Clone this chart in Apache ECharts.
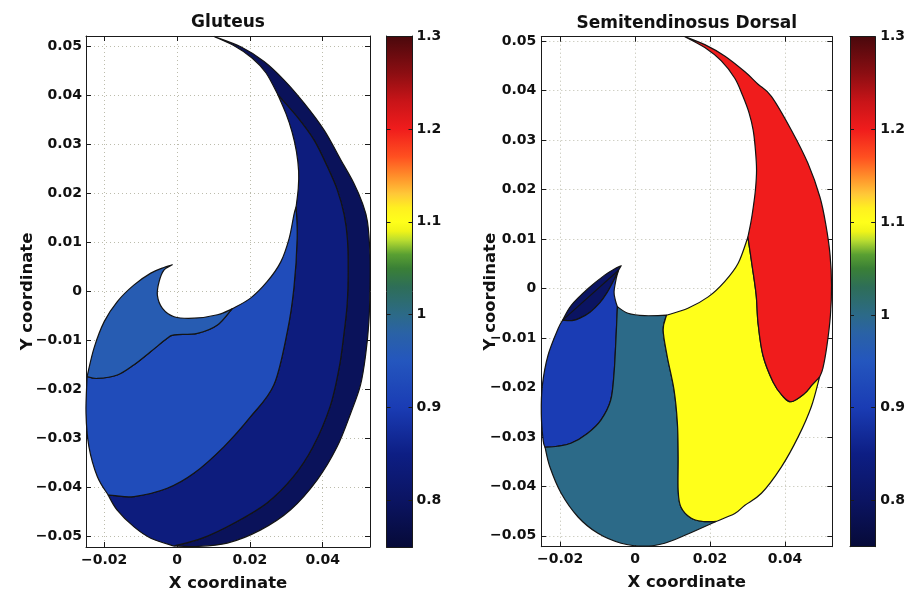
<!DOCTYPE html>
<html>
<head>
<meta charset="utf-8">
<script src="https://cdn.jsdelivr.net/npm/echarts@6/dist/echarts.min.js"></script>
<style>
  html, body { margin: 0; padding: 0; background: #ffffff; }
  #chart { width: 908px; height: 598px; }
</style>
</head>
<body>
<div id="chart"></div>
<script>
// ---------- axis ticks and colour scale ----------
const xTicks = [-0.02, 0, 0.02, 0.04];
const yTicks = [-0.05, -0.04, -0.03, -0.02, -0.01, 0, 0.01, 0.02, 0.03, 0.04, 0.05];
const cbTicks = [0.8, 0.9, 1, 1.1, 1.2, 1.3];
const cbRange = [0.75, 1.3];
const colormap = [
  [0.75, '#060a38'], [0.80, '#0b1462'], [0.85, '#0d1e84'], [0.90, '#1a3cb4'],
  [0.95, '#2456be'], [0.98, '#2a62a6'], [1.00, '#2c6a88'], [1.03, '#2e6e58'],
  [1.05, '#3a8036'], [1.065, '#5aa032'], [1.08, '#b8dc30'], [1.09, '#f0f418'],
  [1.10, '#ffff1a'], [1.115, '#fff020'], [1.13, '#ffc838'], [1.15, '#ff8c2a'],
  [1.17, '#ff5020'], [1.20, '#f01c1c'], [1.23, '#c81418'], [1.26, '#8c0e12'],
  [1.30, '#4a080c']
];

// ---------- Gluteus: boundary segments (x, y in metres) ----------
const gOuterTopToA = [[0.0102,0.0520],[0.0175,0.0499],[0.0239,0.0469],[0.0294,0.0431],[0.0349,0.0384],[0.0404,0.0329],[0.0450,0.0268],[0.0486,0.0220],[0.0509,0.0180],[0.0523,0.0142],[0.0530,0.0074],[0.0530,0.0006],[0.0527,-0.0062],[0.0518,-0.0130],[0.0504,-0.0191],[0.0477,-0.0249],[0.0440,-0.0317],[0.0385,-0.0385],[0.0312,-0.0446],[0.0230,-0.0487],[0.0138,-0.0514],[0.0047,-0.0521],[-0.0008,-0.0520]];
const gOuterAToB = [[-0.0008,-0.0520],[-0.0072,-0.0504],[-0.0118,-0.0481],[-0.0165,-0.0446],[-0.0189,-0.0416]];
const gOuterBToC = [[-0.0189,-0.0416],[-0.0219,-0.0378],[-0.0242,-0.0317],[-0.0250,-0.0249],[-0.0247,-0.0174]];
const gOuterCToTip = [[-0.0247,-0.0174],[-0.0228,-0.0116],[-0.0200,-0.0062],[-0.0164,-0.0021],[-0.0118,0.0013],[-0.0072,0.0037],[-0.0038,0.0048],[-0.0013,0.0054]];
const gHoleTipToC = [[-0.0013,0.0054],[-0.0036,0.0043],[-0.0049,0.0020],[-0.0054,-0.0008],[-0.0040,-0.0035],[-0.0008,-0.0052],[0.0047,-0.0055],[0.0111,-0.0048],[0.0151,-0.0036]];
const gHoleCToB = [[0.0151,-0.0036],[0.0202,-0.0014],[0.0248,0.0020],[0.0285,0.0060],[0.0308,0.0108],[0.0321,0.0156],[0.0327,0.0172]];
const gHoleBToA = [[0.0327,0.0172],[0.0333,0.0210],[0.0334,0.0245],[0.0328,0.0285],[0.0316,0.0325],[0.0299,0.0363],[0.0277,0.0401]];
const gHoleAToTop = [[0.0277,0.0401],[0.0244,0.0446],[0.0206,0.0476],[0.0157,0.0501],[0.0102,0.0520]];
const gLineA = [[0.0277,0.0401],[0.0330,0.0356],[0.0376,0.0309],[0.0413,0.0254],[0.0440,0.0207],[0.0459,0.0156],[0.0468,0.0105],[0.0470,0.0039],[0.0467,-0.0028],[0.0457,-0.0095],[0.0445,-0.0157],[0.0420,-0.0236],[0.0373,-0.0318],[0.0319,-0.0379],[0.0247,-0.0432],[0.0157,-0.0473],[0.0069,-0.0504],[-0.0008,-0.0520]];
const gLineB = [[0.0327,0.0172],[0.0330,0.0109],[0.0321,0.0007],[0.0303,-0.0082],[0.0266,-0.0191],[0.0202,-0.0256],[0.0129,-0.0317],[0.0047,-0.0371],[-0.0027,-0.0402],[-0.0118,-0.0419],[-0.0170,-0.0417],[-0.0189,-0.0416]];
const gLineC = [[-0.0247,-0.0174],[-0.0219,-0.0178],[-0.0164,-0.0171],[-0.0118,-0.0150],[-0.0072,-0.0123],[-0.0027,-0.0096],[-0.0008,-0.0089],[0.0056,-0.0086],[0.0111,-0.0069],[0.0151,-0.0036]];
const gluteusValues = [0.79, 0.84, 0.93, 0.965];

// ---------- Semitendinosus Dorsal: boundary segments ----------
const sOuterTopToD = [[0.0133,0.0509],[0.0186,0.0493],[0.0239,0.0470],[0.0293,0.0438],[0.0328,0.0413],[0.0364,0.0388],[0.0417,0.0320],[0.0461,0.0253],[0.0493,0.0185],[0.0509,0.0128],[0.0520,0.0068],[0.0524,0.0007],[0.0521,-0.0054],[0.0512,-0.0114],[0.0501,-0.0161],[0.0492,-0.0179]];
const sOuterDToE = [[0.0492,-0.0179],[0.0470,-0.0239],[0.0435,-0.0300],[0.0390,-0.0361],[0.0337,-0.0414],[0.0293,-0.0438],[0.0266,-0.0455],[0.0216,-0.0471]];
const sOuterEToF = [[0.0216,-0.0471],[0.0133,-0.0499],[0.0079,-0.0515],[0.0026,-0.0521],[-0.0037,-0.0515],[-0.0099,-0.0495],[-0.0152,-0.0462],[-0.0197,-0.0414],[-0.0227,-0.0361],[-0.0240,-0.0321]];
const sOuterFToG = [[-0.0240,-0.0321],[-0.0245,-0.0307],[-0.0250,-0.0253],[-0.0247,-0.0195],[-0.0232,-0.0135],[-0.0205,-0.0081],[-0.0193,-0.0064]];
const sOuterGToTip = [[-0.0193,-0.0064],[-0.0170,-0.0034],[-0.0125,0.0000],[-0.0081,0.0027],[-0.0056,0.0039],[-0.0037,0.0046]];
const sHoleTipToG = [[-0.0037,0.0046],[-0.0044,0.0037]];
const sHoleGToF = [[-0.0044,0.0037],[-0.0050,0.0021],[-0.0056,-0.0007],[-0.0052,-0.0025],[-0.0047,-0.0037]];
const sHoleFToE = [[-0.0047,-0.0037],[-0.0019,-0.0050],[0.0026,-0.0055],[0.0084,-0.0054]];
const sHoleEToD = [[0.0084,-0.0054],[0.0141,-0.0040],[0.0195,-0.0017],[0.0239,0.0014],[0.0275,0.0051],[0.0301,0.0104]];
const sHoleDToTop = [[0.0301,0.0104],[0.0309,0.0134],[0.0315,0.0163],[0.0321,0.0199],[0.0324,0.0239],[0.0321,0.0280],[0.0315,0.0320],[0.0304,0.0355],[0.0288,0.0388],[0.0266,0.0425],[0.0230,0.0460],[0.0186,0.0487],[0.0133,0.0509]];
const sLineD = [[0.0301,0.0104],[0.0312,0.0047],[0.0323,-0.0013],[0.0328,-0.0070],[0.0341,-0.0135],[0.0368,-0.0189],[0.0392,-0.0216],[0.0416,-0.0229],[0.0451,-0.0213],[0.0472,-0.0195],[0.0492,-0.0179]];
const sLineE = [[0.0084,-0.0054],[0.0075,-0.0084],[0.0086,-0.0138],[0.0104,-0.0205],[0.0113,-0.0273],[0.0115,-0.0340],[0.0115,-0.0408],[0.0122,-0.0441],[0.0149,-0.0464],[0.0181,-0.0471],[0.0216,-0.0471]];
const sLineF = [[-0.0047,-0.0037],[-0.0051,-0.0104],[-0.0056,-0.0172],[-0.0065,-0.0226],[-0.0091,-0.0266],[-0.0127,-0.0293],[-0.0171,-0.0313],[-0.0207,-0.0319],[-0.0240,-0.0321]];
const sLineG = [[-0.0044,0.0037],[-0.0059,0.0013],[-0.0075,-0.0009],[-0.0093,-0.0028],[-0.0120,-0.0048],[-0.0147,-0.0060],[-0.0168,-0.0065],[-0.0193,-0.0064]];
const semitendValues = [0.8, 0.9, 1.0, 1.1, 1.2];

// ---------- helpers ----------
const rev = a => a.slice().reverse();

// each region is an ordered ring of boundary segments
const gluteusRegions = [
  [gOuterTopToA, rev(gLineA), gHoleAToTop],
  [gLineA, gOuterAToB, rev(gLineB), gHoleBToA],
  [gLineB, gOuterBToC, gLineC, gHoleCToB],
  [gOuterCToTip, gHoleTipToC, rev(gLineC)]
];
const semitendRegions = [
  [sOuterGToTip, sHoleTipToG, rev(sLineG)],
  [sLineG, rev(sOuterFToG), rev(sLineF), rev(sHoleGToF)],
  [sHoleFToE, sLineE, sOuterEToF, rev(sLineF)],
  [sHoleEToD, sLineD, sOuterDToE, rev(sLineE)],
  [sOuterTopToD, rev(sLineD), sHoleDToTop]
];

function hexToRgb(h) {
  return [parseInt(h.slice(1,3),16), parseInt(h.slice(3,5),16), parseInt(h.slice(5,7),16)];
}
function colorAt(v) {
  if (v <= colormap[0][0]) return colormap[0][1];
  for (let i = 1; i < colormap.length; i++) {
    const [v1, c1] = colormap[i];
    if (v <= v1) {
      const [v0, c0] = colormap[i - 1];
      const t = (v - v0) / (v1 - v0);
      const a = hexToRgb(c0), b = hexToRgb(c1);
      const m = a.map((x, k) => Math.round(x + (b[k] - x) * t));
      return 'rgb(' + m.join(',') + ')';
    }
  }
  return colormap[colormap.length - 1][1];
}

// smooth curve through the screen points of each boundary segment (Catmull-Rom as cubic Bezier),
// keeping the corners where segments meet
function ringPath(segments, api) {
  let d = '';
  let last = null;
  segments.forEach((seg, si) => {
    const pts = seg.map(p => api.coord(p));
    const f = pts[0];
    if (si === 0) d += 'M' + f[0].toFixed(2) + ' ' + f[1].toFixed(2);
    else if (!last || Math.hypot(f[0] - last[0], f[1] - last[1]) > 0.01) d += 'L' + f[0].toFixed(2) + ' ' + f[1].toFixed(2);
    for (let i = 0; i < pts.length - 1; i++) {
      const p0 = pts[i - 1] || pts[i], p1 = pts[i], p2 = pts[i + 1], p3 = pts[i + 2] || pts[i + 1];
      const c1x = p1[0] + (p2[0] - p0[0]) / 6, c1y = p1[1] + (p2[1] - p0[1]) / 6;
      const c2x = p2[0] - (p3[0] - p1[0]) / 6, c2y = p2[1] - (p3[1] - p1[1]) / 6;
      d += 'C' + [c1x, c1y, c2x, c2y, p2[0], p2[1]].map(n => n.toFixed(2)).join(' ');
    }
    last = pts[pts.length - 1];
  });
  return d + 'Z';
}

const FONT = 'DejaVu Sans';
const INK = '#111111';
const fmt = v => {
  const n = +(+v).toFixed(3);
  return (n < 0 ? '\u2212' : '') + String(Math.abs(n));
};
const frameLine = { show: true, onZero: false, lineStyle: { color: '#1a1a1a', width: 1 } };
const labelFont = { color: INK, fontFamily: FONT, fontWeight: 'bold', fontSize: 14 };
const nameFont = { color: INK, fontFamily: FONT, fontWeight: 'bold', fontSize: 16.5 };
const titleFont = { color: INK, fontFamily: FONT, fontWeight: 'bold', fontSize: 17 };

// ---------- panel layout ----------
const panels = [
  { title: 'Gluteus', grid: { left: 86, top: 36, width: 284, height: 511 },
    cb: { left: 386.5, top: 36, width: 26, height: 511 },
    xr: [-0.025, 0.053], yr: [-0.0522, 0.0521], yLabelMargin: 4, yNameGap: 50, cbLabelMargin: 4,
    regions: gluteusRegions, values: gluteusValues },
  { title: 'Semitendinosus Dorsal', grid: { left: 541.3, top: 36.7, width: 291, height: 510 },
    cb: { left: 850, top: 36.7, width: 26, height: 510 },
    xr: [-0.025, 0.0526], yr: [-0.0522, 0.0509], yLabelMargin: 5, yNameGap: 42, cbLabelMargin: 5,
    regions: semitendRegions, values: semitendValues }
];

const grids = [], xAxes = [], yAxes = [], series = [];
panels.forEach(p => {
  const gi = grids.length;
  grids.push(p.grid);
  const ci = grids.length;
  grids.push(p.cb);

  const tick = (vals, len) => ({ show: true, inside: true, length: len, customValues: vals,
                                 lineStyle: { color: '#1a1a1a', width: 1 } });
  const split = { show: true, lineStyle: { color: '#bcbcac', width: 1, type: [1, 3] } };

  // plot axes (box on all four sides)
  const xb = xAxes.length;
  xAxes.push({ type: 'value', gridIndex: gi, position: 'bottom', min: p.xr[0], max: p.xr[1],
    axisLine: frameLine, axisTick: tick(xTicks, 5),
    axisLabel: Object.assign({ customValues: xTicks, formatter: fmt, margin: 6 }, labelFont),
    splitLine: Object.assign({}, split, { customValues: xTicks }),
    name: 'X coordinate', nameLocation: 'middle', nameGap: 28, nameMoveOverlap: false, nameTextStyle: nameFont });
  xAxes.push({ type: 'value', gridIndex: gi, position: 'top', min: p.xr[0], max: p.xr[1],
    axisLine: frameLine, axisTick: tick(xTicks, 5), axisLabel: { show: false },
    splitLine: { show: false },
    name: p.title, nameLocation: 'middle', nameGap: 5, nameMoveOverlap: false, nameTextStyle: titleFont });
  const yl = yAxes.length;
  yAxes.push({ type: 'value', gridIndex: gi, position: 'left', min: p.yr[0], max: p.yr[1],
    axisLine: frameLine, axisTick: tick(yTicks, 5),
    axisLabel: Object.assign({ customValues: yTicks, formatter: fmt, margin: p.yLabelMargin }, labelFont),
    splitLine: Object.assign({}, split, { customValues: yTicks }),
    name: 'Y coordinate', nameLocation: 'middle', nameGap: p.yNameGap, nameMoveOverlap: false, nameTextStyle: nameFont });
  yAxes.push({ type: 'value', gridIndex: gi, position: 'right', min: p.yr[0], max: p.yr[1],
    axisLine: frameLine, axisTick: tick(yTicks, 5), axisLabel: { show: false },
    splitLine: { show: false } });

  // colour bar axes (drawn above the colour strip)
  const cxb = xAxes.length;
  xAxes.push({ type: 'value', gridIndex: ci, position: 'bottom', min: 0, max: 1, z: 5,
    axisLine: frameLine, axisTick: { show: false }, axisLabel: { show: false }, splitLine: { show: false } });
  xAxes.push({ type: 'value', gridIndex: ci, position: 'top', min: 0, max: 1, z: 5,
    axisLine: frameLine, axisTick: { show: false }, axisLabel: { show: false }, splitLine: { show: false } });
  const cyr = yAxes.length;
  yAxes.push({ type: 'value', gridIndex: ci, position: 'right', min: cbRange[0], max: cbRange[1], z: 5,
    axisLine: frameLine, axisTick: tick(cbTicks, 4),
    axisLabel: Object.assign({ customValues: cbTicks, formatter: fmt, margin: p.cbLabelMargin }, labelFont),
    splitLine: { show: false } });
  yAxes.push({ type: 'value', gridIndex: ci, position: 'left', min: cbRange[0], max: cbRange[1], z: 5,
    axisLine: frameLine, axisTick: tick(cbTicks, 4), axisLabel: { show: false }, splitLine: { show: false } });

  // filled regions
  const regions = p.regions, values = p.values;
  series.push({
    type: 'custom', coordinateSystem: 'cartesian2d', xAxisIndex: xb, yAxisIndex: yl,
    silent: true, animation: false,
    data: regions.map((r, i) => [r[0][0][0], r[0][0][1], values[i]]),
    renderItem: (params, api) => ({
      type: 'path',
      shape: { pathData: ringPath(regions[params.dataIndex], api) },
      style: { fill: colorAt(values[params.dataIndex]), stroke: '#141414', lineWidth: 1.2, lineJoin: 'round' }
    })
  });

  // colour bar
  series.push({
    type: 'custom', coordinateSystem: 'cartesian2d', xAxisIndex: cxb, yAxisIndex: cyr,
    silent: true, animation: false,
    data: [[0.5, cbRange[0]]],
    renderItem: (params, api) => {
      const p0 = api.coord([0, cbRange[0]]);
      const p1 = api.coord([1, cbRange[1]]);
      const span = cbRange[1] - cbRange[0];
      const stops = colormap.map(([v, c]) => ({ offset: (v - cbRange[0]) / span, color: c }));
      return {
        type: 'rect',
        shape: { x: p0[0], y: p1[1], width: p1[0] - p0[0], height: p0[1] - p1[1] },
        style: { fill: new echarts.graphic.LinearGradient(0, 1, 0, 0, stops) }
      };
    }
  });
});

const chart = echarts.init(document.getElementById('chart'), null, { renderer: 'canvas' });
chart.setOption({
  backgroundColor: '#ffffff',
  animation: false,
  grid: grids,
  xAxis: xAxes,
  yAxis: yAxes,
  series: series
});
</script>
</body>
</html>
